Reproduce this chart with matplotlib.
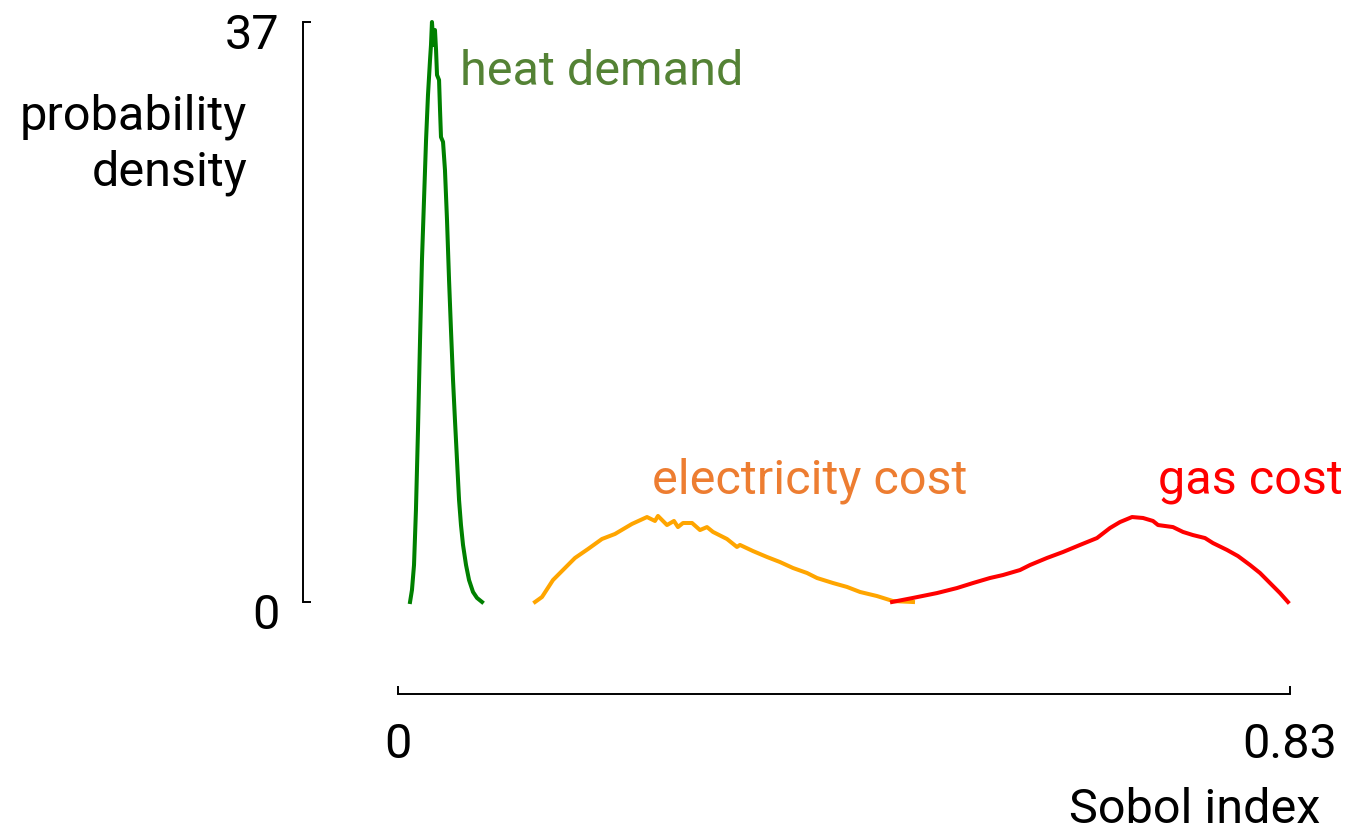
import matplotlib
matplotlib.use("Agg")
import matplotlib.pyplot as plt
from matplotlib.transforms import ScaledTranslation

plt.rcParams['font.family'] = ['Roboto', 'DejaVu Sans']

# ---- data (Sobol index vs probability density) ----
heat_x = [0.0112, 0.0130, 0.0149, 0.0167, 0.0186, 0.0205, 0.0223, 0.0242, 0.0261, 0.0279,
          0.0298, 0.0307, 0.0316, 0.0326, 0.0335, 0.0344, 0.0354, 0.0363, 0.0382, 0.0391,
          0.0400, 0.0419, 0.0437, 0.0456, 0.0475, 0.0493, 0.0512, 0.0530, 0.0549, 0.0568,
          0.0586, 0.0605, 0.0633, 0.0661, 0.0698, 0.0735, 0.0782]
heat_y = [0.0, 0.77, 2.36, 5.87, 10.97, 16.71, 21.82, 25.65, 29.47, 32.34,
          34.58, 35.53, 37.0, 35.98, 35.53, 36.49, 35.21, 33.62, 33.30, 31.39,
          29.66, 29.35, 27.56, 24.37, 20.54, 17.35, 14.16, 11.61, 9.06, 6.51,
          4.91, 3.64, 2.36, 1.40, 0.64, 0.26, 0.0]

elec_x = [0.1275, 0.1340, 0.1442, 0.1535, 0.1647, 0.1768, 0.1898, 0.2019, 0.2177, 0.2317,
          0.2391, 0.2419, 0.2503, 0.2568, 0.2605, 0.2652, 0.2736, 0.2810, 0.2875, 0.2931,
          0.3061, 0.3154, 0.3182, 0.3303, 0.3434, 0.3554, 0.3675, 0.3806, 0.3899, 0.4048,
          0.4178, 0.4299, 0.4457, 0.4606, 0.4792]
elec_y = [0.0, 0.32, 1.40, 2.04, 2.81, 3.38, 4.02, 4.34, 4.98, 5.42,
          5.17, 5.49, 4.91, 5.17, 4.78, 5.04, 5.04, 4.59, 4.78, 4.47,
          4.02, 3.51, 3.64, 3.25, 2.87, 2.55, 2.17, 1.85, 1.53, 1.21,
          0.96, 0.64, 0.38, 0.06, 0.0]

gas_x = [0.4597, 0.4792, 0.5015, 0.5201, 0.5350, 0.5508, 0.5629, 0.5788, 0.5881, 0.6039,
         0.6188, 0.6346, 0.6504, 0.6625, 0.6718, 0.6830, 0.6932, 0.7025, 0.7072, 0.7211,
         0.7304, 0.7397, 0.7509, 0.7583, 0.7714, 0.7816, 0.7928, 0.8021, 0.8114, 0.8207,
         0.8281]
gas_y = [0.0, 0.26, 0.57, 0.89, 1.21, 1.53, 1.72, 2.04, 2.36, 2.81,
         3.19, 3.64, 4.08, 4.72, 5.10, 5.42, 5.36, 5.17, 4.91, 4.78,
         4.47, 4.27, 4.08, 3.76, 3.32, 2.93, 2.36, 1.85, 1.21, 0.57,
         0.0]

x_ticks = [0, 0.83]
x_ticklabels = ["0", "0.83"]
y_ticks = [0, 37]
y_ticklabels = ["0", "37"]

labels = ["heat demand", "electricity cost", "gas cost"]
label_pos = [(0.0577, 33.0), (0.2363, 6.95), (0.8790, 6.95)]
label_ha = ["left", "left", "right"]
label_colors = ["#548235", "#ED7D31", "#FF0000"]
line_colors = ["#008000", "#FFA500", "#FF0000"]

FS = 35

# ---- figure ----
fig = plt.figure(figsize=(13.51, 8.35), dpi=100)
ax = fig.add_axes([398 / 1351, 233 / 835, 892 / 1351, 580 / 835])

for xs, ys, c in [(heat_x, heat_y, line_colors[0]),
                  (elec_x, elec_y, line_colors[1]),
                  (gas_x, gas_y, line_colors[2])]:
    ax.plot(xs, ys, color=c, lw=2.9, solid_joinstyle='round', clip_on=False)

for t, (x, y), ha, c in zip(labels, label_pos, label_ha, label_colors):
    ax.text(x, y, t, color=c, fontsize=FS, va='baseline', ha=ha)

ax.set_xlim(0, 0.83)
ax.set_ylim(0, 37)

for s in ['top', 'right']:
    ax.spines[s].set_visible(False)
ax.spines['left'].set_position(('outward', 68.4))
ax.spines['bottom'].set_position(('outward', 66.2))
ax.spines['left'].set_bounds(0, 37)
ax.spines['bottom'].set_bounds(0, 0.83)
for s in ['left', 'bottom']:
    ax.spines[s].set_linewidth(1.4)

ax.set_xticks(x_ticks)
ax.set_xticklabels(x_ticklabels)
ax.set_yticks(y_ticks)
ax.set_yticklabels(y_ticklabels)
ax.tick_params(axis='both', direction='in', length=6, width=1.4, labelsize=FS)
ax.tick_params(axis='y', pad=17)
ax.tick_params(axis='x', pad=20)

off = ScaledTranslation(0, -9 / 100, fig.dpi_scale_trans)
for lab in ax.get_yticklabels():
    lab.set_transform(lab.get_transform() + off)

# y-axis title, horizontal, right-aligned to the left of the axis
fig.text(247 / 1351, 1 - 130 / 835, "probability", fontsize=FS, ha='right', va='baseline')
fig.text(247 / 1351, 1 - 185 / 835, "density", fontsize=FS, ha='right', va='baseline')

ax.set_xlabel("Sobol index", fontsize=FS, va='baseline')
ax.xaxis.set_label_coords(0.8935, -(823 - 602) / 580)

fig.savefig("out.png", dpi=100)
